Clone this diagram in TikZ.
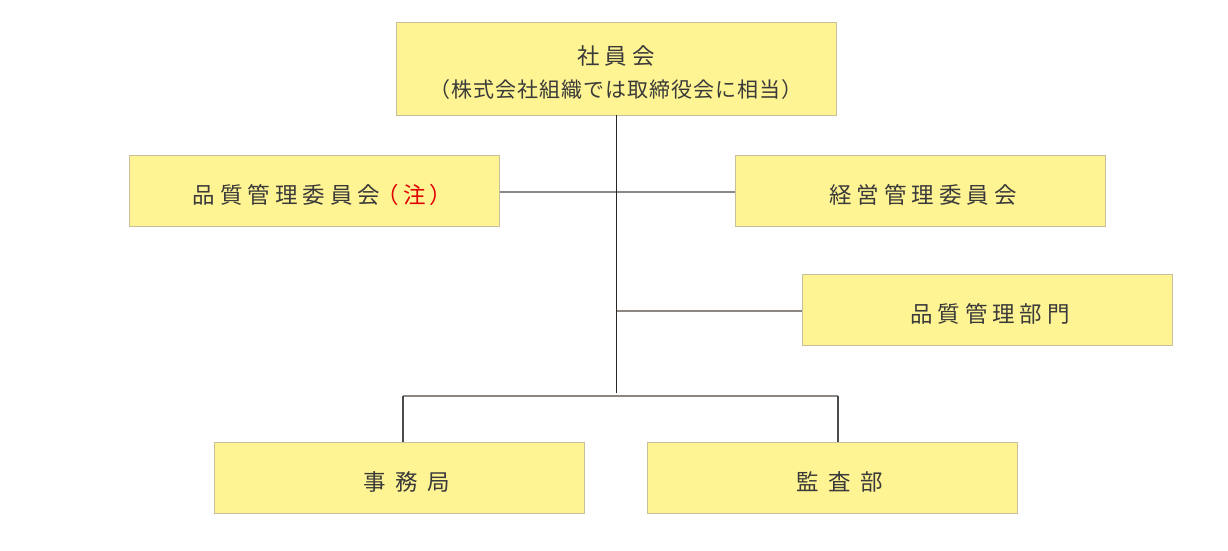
\documentclass[tikz,border=0pt]{standalone}
\usepackage{fontspec}
\setmainfont{Liberation Sans}
\newfontfamily\jp[LetterSpace=5]{Noto Sans CJK JP}
\newfontfamily\jpw[LetterSpace=22]{Noto Sans CJK JP}
\newfontfamily\jpww[LetterSpace=42]{Noto Sans CJK JP}
\usetikzlibrary{positioning,calc}
\definecolor{boxfill}{HTML}{FFF494}
\definecolor{boxline}{HTML}{C9C09A}
\definecolor{textgray}{HTML}{3A3A3A}
\definecolor{bargray}{HTML}{8C8782}
\definecolor{notered}{HTML}{E00000}
\tikzset{
block/.style = {draw=boxline, fill=boxfill, rectangle, minimum height=71pt, minimum width=370pt, inner sep=0pt,
  text=textgray, font=\jpw\fontsize{22.5}{26}\selectfont, text height=27pt, text depth=2pt,
  execute at begin node={\hskip 6pt}},
wideblock/.style = {block, font=\jpww\fontsize{22.5}{26}\selectfont, execute at begin node={\hskip 9pt}},
trunk/.style = {draw=black!85, line width=1pt},
bar/.style = {draw=bargray, line width=1.5pt},
drop/.style = {draw=black!70, line width=1.2pt},
tmp/.style = {coordinate}
}
\begin{document}
\begin{tikzpicture}[x=1pt, y=-1pt]
    \useasboundingbox (0,0) rectangle (1228,551);

    \node [draw=boxline, fill=boxfill, minimum width=440pt, minimum height=93pt, inner sep=0pt,
           text=textgray, font=\jpw\fontsize{22.5}{26}\selectfont] (board) at (616,68.5)
        {\begin{tabular}{@{}c@{}}\rule{0pt}{32pt}社員会\\[7pt]{\jp\fontsize{21}{24}\selectfont（株式会社組織では取締役会に相当）}\end{tabular}};
    \node [block] (qcc) at (314.5,190.5) {品質管理委員会\kern7pt{\color{notered}\addfontfeature{RawFeature=+palt}（注）}};
    \node [block] (mgc) at (920,190.5) {経営管理委員会};
    \node [block] (qcd) at (987,309.5) {品質管理部門};
    \node [wideblock] (office) at (399.5,477.5) {事務局};
    \node [wideblock] (audit) at (832,477.5) {監査部};

    \node [tmp] (split) at (616,393) {};
    \node [tmp] (fork) at (616,396) {};

    % horizontal branches first, trunk over them
    \draw [bar] ([yshift=-1.5pt]qcc.east) -- ([yshift=-1.5pt]mgc.west);
    \draw [bar] ([yshift=-1.5pt]qcd.west) -- ([yshift=-1.5pt]qcd.west -| board.south);
    \draw [bar] ([xshift=3.5pt]office.north |- fork) -- ([xshift=6pt]audit.north |- fork);
    \draw [drop] ([xshift=3.5pt]office.north) -- ([xshift=3.5pt]office.north |- fork);
    \draw [drop] ([xshift=6pt]audit.north) -- ([xshift=6pt]audit.north |- fork);
    \draw [trunk] (board.south) -- (split);
\end{tikzpicture}
\end{document}
